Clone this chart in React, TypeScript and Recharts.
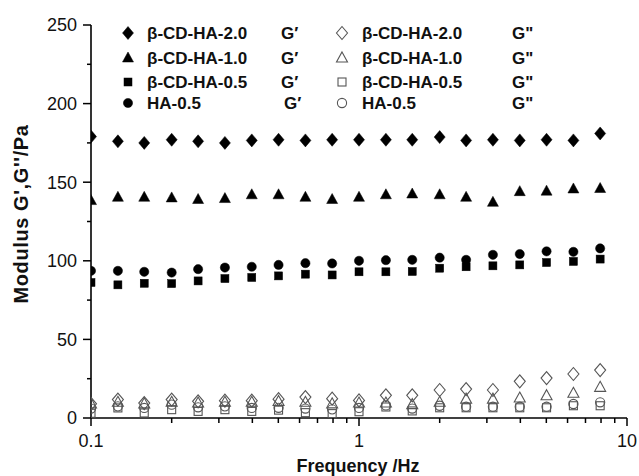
import React from 'react';
import { ScatterChart, Scatter, XAxis, YAxis } from 'recharts';

const FREQ = [0.1, 0.126, 0.158, 0.2, 0.251, 0.316, 0.398, 0.501, 0.631, 0.794, 1.0, 1.26, 1.58, 2.0, 2.51, 3.16, 3.98, 5.01, 6.31, 7.94];

const CD20_GP = [179, 176, 175, 177, 176, 175, 176.6, 177, 176.6, 177, 177, 177, 177, 178.7, 176.6, 177, 176.6, 177, 176.6, 181];
const CD10_GP = [138.3, 140.4, 140.4, 140, 139, 139.6, 142, 142, 140.4, 139, 140.4, 142, 142.5, 142, 140.4, 137.2, 144, 144.3, 145.7, 146];
const CD05_GP = [86.2, 84.7, 85.7, 85.5, 87.2, 88.7, 89.4, 90.4, 91.5, 91, 93, 93, 93.2, 95.3, 96.2, 96.8, 97.4, 98.9, 99.6, 101.1];
const HA05_GP = [93.6, 93.6, 93, 92.5, 94.7, 95.7, 96.2, 97.4, 98.5, 98.3, 100, 100.4, 100.6, 102, 100.6, 103.8, 104.3, 106, 105.7, 107.9];

const CD20_GPP = [9, 11.7, 9.5, 11.7, 10.6, 11, 11, 12, 13.3, 12.3, 11.2, 14.4, 14.4, 17.8, 18.4, 17.8, 23.3, 25.4, 28, 30.5];
const CD10_GPP = [9, 10, 9, 10, 9.5, 10, 10, 10.5, 10, 9, 9.5, 9.5, 8.5, 10, 12, 12, 12.7, 14.2, 15.7, 19.5];
const CD05_GPP = [3, 6.4, 3.2, 5.3, 4.2, 5.3, 4.2, 5, 3.4, 2.8, 4, 7, 4.5, 6.5, 6.5, 6.5, 6.5, 6.5, 7.8, 7.8];
const HA05_GPP = [6, 7.4, 6.4, 8.5, 6.8, 7.4, 6.4, 6.5, 6, 5.5, 6.4, 8, 6, 7.8, 7.2, 7.2, 7.2, 7.2, 8.9, 10];

const X_TICKS = [0.1, 0.2, 0.3, 0.4, 0.5, 0.6, 0.7, 0.8, 0.9, 1, 2, 3, 4, 5, 6, 7, 8, 9, 10];
const X_MAJOR = [0.1, 1, 10];
const X_LABELS = ['0.1', '1', '10'];
const Y_TICKS = [0, 25, 50, 75, 100, 125, 150, 175, 200, 225, 250];
const Y_MAJOR = [0, 50, 100, 150, 200, 250];

const FONT = '"Liberation Sans", Arial, sans-serif';
const GRAY = '#555';

type Kind = 'diamond' | 'triangle' | 'square' | 'circle';

const SERIES_GP = [
  { name: 'β-CD-HA-2.0', values: CD20_GP, kind: 'diamond' as Kind },
  { name: 'β-CD-HA-1.0', values: CD10_GP, kind: 'triangle' as Kind },
  { name: 'β-CD-HA-0.5', values: CD05_GP, kind: 'square' as Kind },
  { name: 'HA-0.5', values: HA05_GP, kind: 'circle' as Kind },
];
const SERIES_GPP = [
  { name: 'β-CD-HA-2.0', values: CD20_GPP, kind: 'diamond' as Kind },
  { name: 'β-CD-HA-1.0', values: CD10_GPP, kind: 'triangle' as Kind },
  { name: 'β-CD-HA-0.5', values: CD05_GPP, kind: 'square' as Kind },
  { name: 'HA-0.5', values: HA05_GPP, kind: 'circle' as Kind },
];

function Marker({ cx, cy, kind, filled }: { cx: number; cy: number; kind: Kind; filled: boolean }) {
  const fill = filled ? '#000' : 'none';
  const stroke = filled ? '#000' : GRAY;
  const sw = filled ? 0.5 : 1.1;
  if (kind === 'diamond') {
    const w = 5.5, h = 6.5;
    return <path d={`M${cx},${cy - h}L${cx + w},${cy}L${cx},${cy + h}L${cx - w},${cy}Z`} fill={fill} stroke={stroke} strokeWidth={sw} />;
  }
  if (kind === 'triangle') {
    return <path d={`M${cx},${cy - 6}L${cx + 5.5},${cy + 4}L${cx - 5.5},${cy + 4}Z`} fill={fill} stroke={stroke} strokeWidth={sw} />;
  }
  if (kind === 'square') {
    return <rect x={cx - 4} y={cy - 4} width={8} height={8} fill={fill} stroke={stroke} strokeWidth={sw} />;
  }
  return <circle cx={cx} cy={cy} r={4.6} fill={fill} stroke={stroke} strokeWidth={sw} />;
}

const XTick = (props: any) => {
  const { x, y, payload } = props;
  const v = payload.value;
  const idx = X_MAJOR.indexOf(v);
  const major = idx >= 0;
  return (
    <g>
      <line x1={x} y1={y} x2={x} y2={y + (major ? 8 : 5)} stroke="#000" strokeWidth={1.5} />
      {major && (
        <text x={x} y={y + 29} textAnchor="middle" fontSize={18} fontFamily={FONT} fill="#111">
          {X_LABELS[idx]}
        </text>
      )}
    </g>
  );
};

const YTick = (props: any) => {
  const { x, y, payload } = props;
  const v = payload.value;
  const major = Y_MAJOR.indexOf(v) >= 0;
  return (
    <g>
      <line x1={x} y1={y} x2={x - (major ? 8 : 4)} y2={y} stroke="#000" strokeWidth={1.5} />
      {major && (
        <text x={x - 14} y={y} dy="0.36em" textAnchor="end" fontSize={18} fontFamily={FONT} fill="#111">
          {String(v)}
        </text>
      )}
    </g>
  );
};

const LEG_ROWS = [33, 58, 82, 103];

export default function App() {
  const mk = (vals: number[]) => FREQ.map((f, i) => ({ x: f, y: vals[i] }));
  return (
    <div style={{ position: 'absolute', left: 0, top: 0, width: 639, height: 476, background: '#fff' }}>
      <ScatterChart width={639} height={476} margin={{ top: 25, right: 12, bottom: 0, left: 0 }}>
        <XAxis
          dataKey="x"
          type="number"
          scale="log"
          domain={[0.1, 10]}
          allowDataOverflow
          ticks={X_TICKS}
          interval={0}
          tickSize={0}
          tickMargin={0}
          tick={XTick}
          height={58}
          axisLine={{ stroke: '#000', strokeWidth: 1.6 }}
          tickLine={false}
        />
        <YAxis
          dataKey="y"
          type="number"
          domain={[0, 250]}
          ticks={Y_TICKS}
          interval={0}
          tickSize={0}
          tickMargin={0}
          tick={YTick}
          width={91}
          axisLine={{ stroke: '#000', strokeWidth: 1.6 }}
          tickLine={false}
        />
        {SERIES_GPP.map((s) => (
          <Scatter
            key={'gpp' + s.name}
            name={s.name + ' G"'}
            data={mk(s.values)}
            isAnimationActive={false}
            shape={(p: any) => <Marker cx={p.cx} cy={p.cy} kind={s.kind} filled={false} />}
          />
        ))}
        {SERIES_GP.map((s) => (
          <Scatter
            key={'gp' + s.name}
            name={s.name + " G'"}
            data={mk(s.values)}
            isAnimationActive={false}
            shape={(p: any) => <Marker cx={p.cx} cy={p.cy} kind={s.kind} filled={true} />}
          />
        ))}
      </ScatterChart>
      <svg width={639} height={476} style={{ position: 'absolute', left: 0, top: 0, pointerEvents: 'none' }}>
        <text x={358} y={472} textAnchor="middle" fontSize={18} fontWeight="bold" fontFamily={FONT} fill="#111">
          Frequency /Hz
        </text>
        <text
          transform="translate(28,214) rotate(-90)"
          textAnchor="middle"
          fontSize={20}
          fontWeight="bold"
          letterSpacing={0.6}
          fontFamily={FONT}
          fill="#111"
        >
          Modulus G',G''/Pa
        </text>
        {SERIES_GP.map((s, i) => (
          <g key={'l1' + i}>
            <Marker cx={128} cy={LEG_ROWS[i]} kind={s.kind} filled={true} />
            <text x={147} y={LEG_ROWS[i] + 6} fontSize={17} fontWeight="bold" fontFamily={FONT} fill="#111">{s.name}</text>
            <text x={i === 3 ? 284 : 281} y={LEG_ROWS[i] + 6} fontSize={17} fontWeight="bold" fontFamily={FONT} fill="#111">G′</text>
          </g>
        ))}
        {SERIES_GPP.map((s, i) => (
          <g key={'l2' + i}>
            <Marker cx={342} cy={LEG_ROWS[i]} kind={s.kind} filled={false} />
            <text x={362} y={LEG_ROWS[i] + 6} fontSize={17} fontWeight="bold" fontFamily={FONT} fill="#111">{s.name}</text>
            <text x={512} y={LEG_ROWS[i] + 6} fontSize={17} fontWeight="bold" fontFamily={FONT} fill="#111">G"</text>
          </g>
        ))}
      </svg>
    </div>
  );
}
